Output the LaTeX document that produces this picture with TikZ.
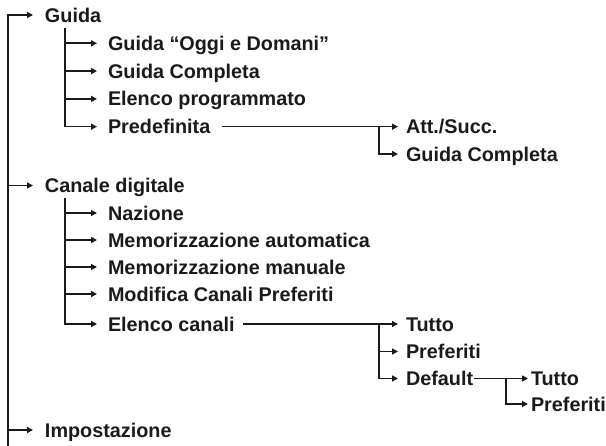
\documentclass[tikz,border=0pt]{standalone}
\usepackage{fontspec}
\setmainfont{Liberation Sans}
\usetikzlibrary{arrows.meta}
\definecolor{ink}{HTML}{1A1A1A}
\tikzset{
  lbl/.style={anchor=west, inner sep=0pt, outer sep=0pt, text=ink,
    text height=14.2pt, text depth=0pt,
    font=\fontsize{19.8}{22}\selectfont\bfseries},
  ln/.style={draw=ink, line width=1.6pt},
  arr/.style={ln, -{Triangle[length=6pt,width=6pt]}},
}
\begin{document}
\begin{tikzpicture}[x=1pt,y=1pt]
\useasboundingbox (0,0) rectangle (606,-446);
% level 0
\node[lbl] (guida)  at (45,-15)  {Guida};
\node[lbl] (canale) at (45,-185.5) {Canale digitale};
\node[lbl] (impo)   at (45,-430) {Impostazione};
\coordinate (trunkbot) at (8,-446);
% Guida children
\node[lbl] (oggi)  at (108,-43.3) {Guida ``Oggi e Domani''};
\node[lbl] (gcomp) at (108,-71.1) {Guida Completa};
\node[lbl] (eprog) at (108,-98.9) {Elenco programmato};
\node[lbl] (pred)  at (108,-126.7) {Predefinita};
\coordinate (gtop) at (65,-28);
\node[lbl] (att)   at (406,-126.7) {Att./Succ.};
\node[lbl] (gcomp2) at (406,-154) {Guida Completa};
% Canale children
\node[lbl] (naz)   at (108,-213) {Nazione};
\node[lbl] (mauto) at (108,-240) {Memorizzazione automatica};
\node[lbl] (mman)  at (108,-267) {Memorizzazione manuale};
\node[lbl] (mod)   at (108,-294) {Modifica Canali Preferiti};
\node[lbl] (elen)  at (108,-324) {Elenco canali};
\coordinate (ctop) at (65,-198);
\node[lbl] (tutto) at (406,-324) {Tutto};
\node[lbl] (pref)  at (406,-351.5) {Preferiti};
\node[lbl] (def)   at (406,-378.5) {Default};
\node[lbl] (tutto2) at (531,-378.5) {Tutto};
\node[lbl] (pref2)  at (531,-404) {Preferiti};
% trunk
\draw[arr, shorten >=12pt] (trunkbot) |- (guida.west);
\draw[arr, shorten >=12pt] (trunkbot |- canale.west) -- (canale.west);
\draw[arr, shorten >=12pt] (trunkbot |- impo.west) -- (impo.west);
% Guida
\foreach \n in {oggi,gcomp,eprog}
  \draw[arr, shorten >=11pt] (gtop |- \n.west) -- (\n.west);
\draw[arr, shorten >=11pt] (gtop) |- (pred.west);
\coordinate (pstart) at ([xshift=12pt]pred.east);
\coordinate (pbr) at (379,-126.7);
\draw[arr, shorten >=8pt] (pstart) -- (att.west);
\draw[arr, shorten >=8pt] (pbr) |- (gcomp2.west);
% Canale
\foreach \n in {naz,mauto,mman,mod}
  \draw[arr, shorten >=11pt] (ctop |- \n.west) -- (\n.west);
\draw[arr, shorten >=11pt] (ctop) |- (elen.west);
\coordinate (estart) at ([xshift=8pt]elen.east);
\coordinate (ebr) at (379,-324);
\draw[arr, shorten >=8pt] (estart) -- (tutto.west);
\draw[arr, shorten >=8pt] (ebr |- pref.west) -- (pref.west);
\draw[arr, shorten >=8pt] (ebr) |- (def.west);
\coordinate (dbr) at (506,-378.5);
\draw[arr, shorten >=3pt] ([xshift=1pt]def.east) -- (tutto2.west);
\draw[arr, shorten >=3pt] (dbr) |- (pref2.west);
\end{tikzpicture}
\end{document}
